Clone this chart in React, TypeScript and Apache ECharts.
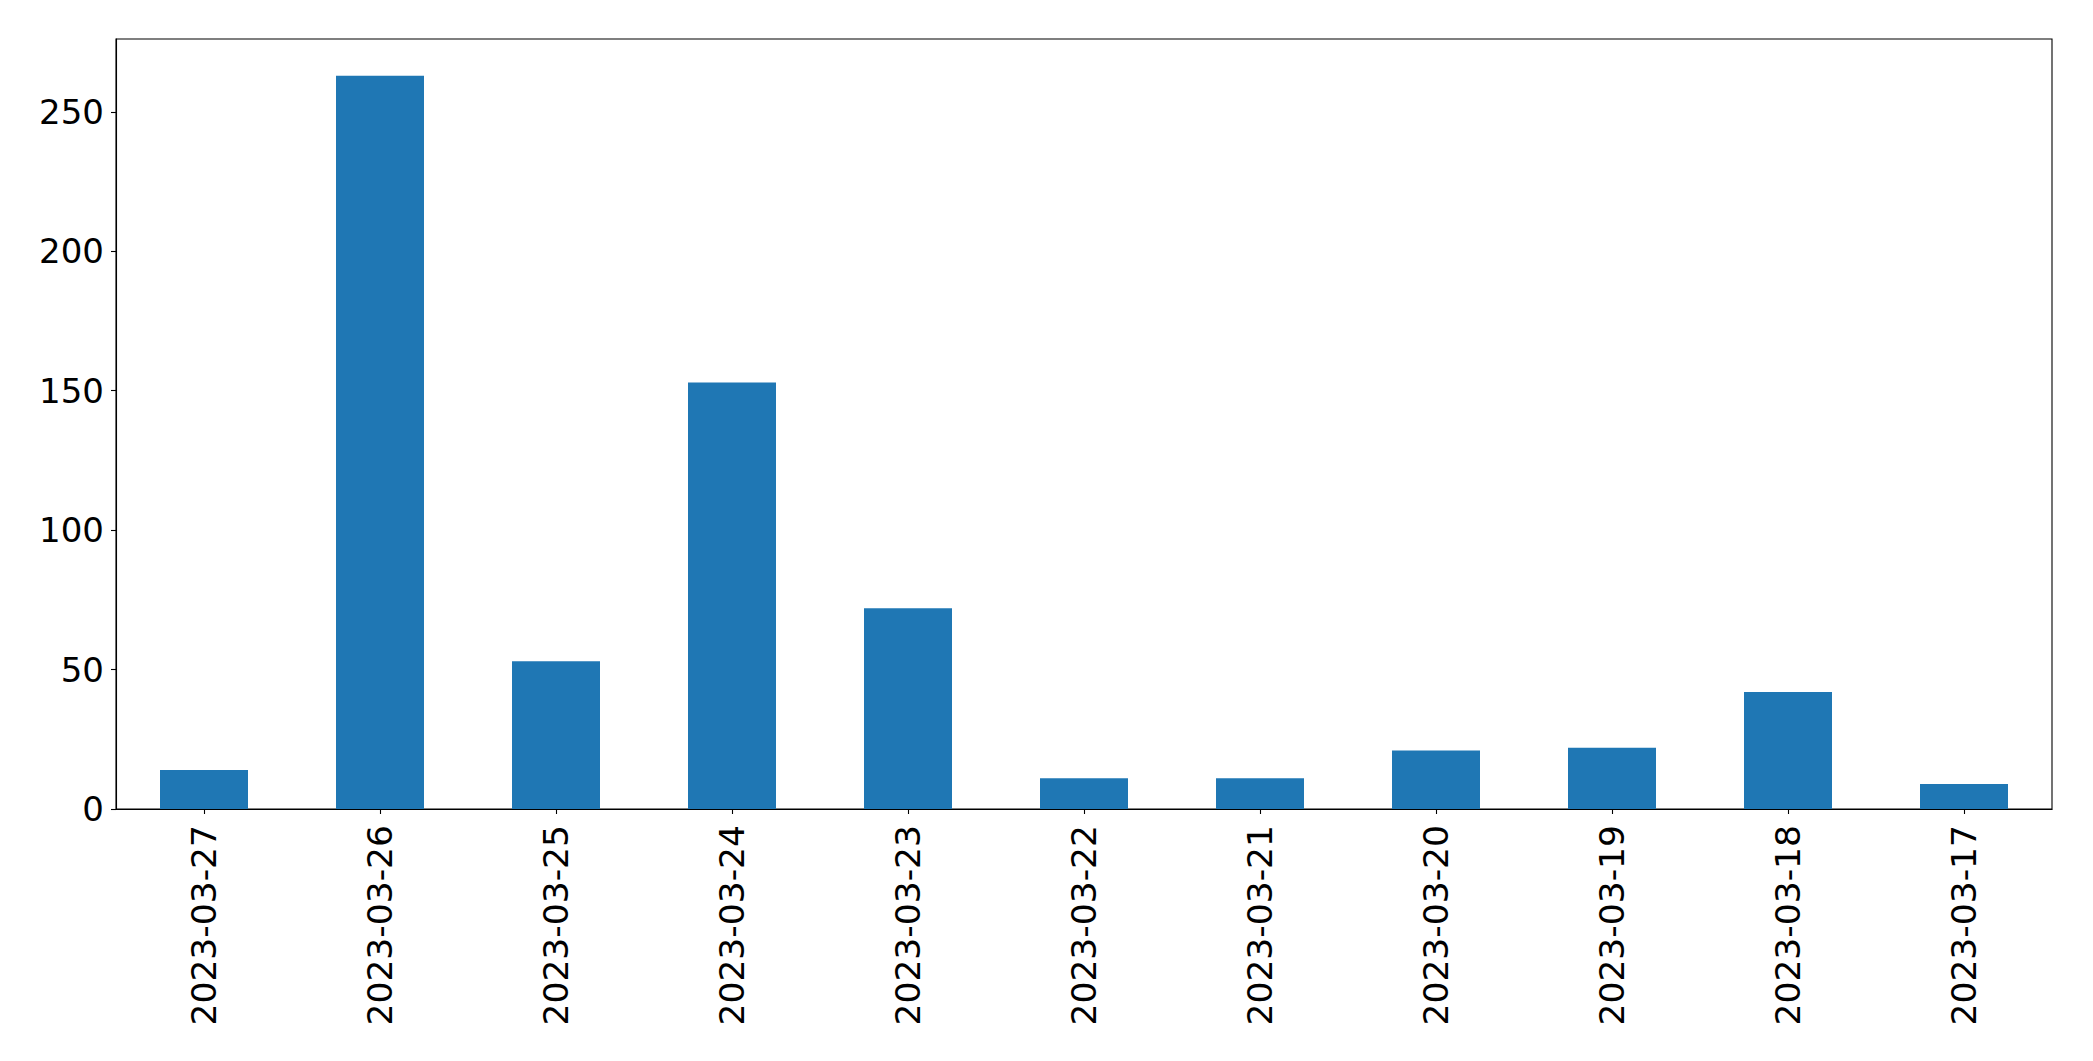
import React, { useEffect, useRef } from "react";
import * as echarts from "echarts";

const categories = [
  "2023-03-27",
  "2023-03-26",
  "2023-03-25",
  "2023-03-24",
  "2023-03-23",
  "2023-03-22",
  "2023-03-21",
  "2023-03-20",
  "2023-03-19",
  "2023-03-18",
  "2023-03-17",
];
const counts = [14, 263, 53, 153, 72, 11, 11, 21, 22, 42, 9];
const yMax = 276.15;
const yStep = 50;

export default function App() {
  const ref = useRef<HTMLDivElement>(null);
  useEffect(() => {
    if (!ref.current) return;
    const chart = echarts.init(ref.current, null, { renderer: "svg" });
    const font = "DejaVu Sans";
    chart.setOption({
      animation: false,
      backgroundColor: "#ffffff",
      grid: {
        left: 116,
        top: 39,
        right: 41,
        bottom: 252,
        show: true,
        borderColor: "#000000",
        borderWidth: 1.1,
        backgroundColor: "transparent",
      },
      xAxis: {
        type: "category",
        data: categories,
        boundaryGap: true,
        axisLine: { show: true, lineStyle: { color: "#000000", width: 1.1 } },
        axisTick: {
          show: true,
          alignWithLabel: true,
          length: 5,
          lineStyle: { color: "#000000", width: 1.1 },
        },
        axisLabel: {
          rotate: 90,
          margin: 16,
          color: "#000000",
          fontFamily: font,
          fontSize: 34.5,
          interval: 0,
        },
        splitLine: { show: false },
      },
      yAxis: {
        type: "value",
        min: 0,
        max: yMax,
        interval: yStep,
        axisLine: { show: true, lineStyle: { color: "#000000", width: 1.1 } },
        axisTick: {
          show: true,
          length: 5,
          lineStyle: { color: "#000000", width: 1.1 },
        },
        axisLabel: {
          margin: 12,
          color: "#000000",
          fontFamily: font,
          fontSize: 34,
          showMaxLabel: false,
        },
        splitLine: { show: false },
      },
      series: [
        {
          type: "bar",
          data: counts,
          barWidth: "50%",
          itemStyle: { color: "#1f77b4" },
        },
      ],
    });
    return () => chart.dispose();
  }, []);
  return (
    <div
      ref={ref}
      style={{ position: "fixed", left: 0, top: 0, width: 2093, height: 1061, background: "#fff" }}
    />
  );
}
